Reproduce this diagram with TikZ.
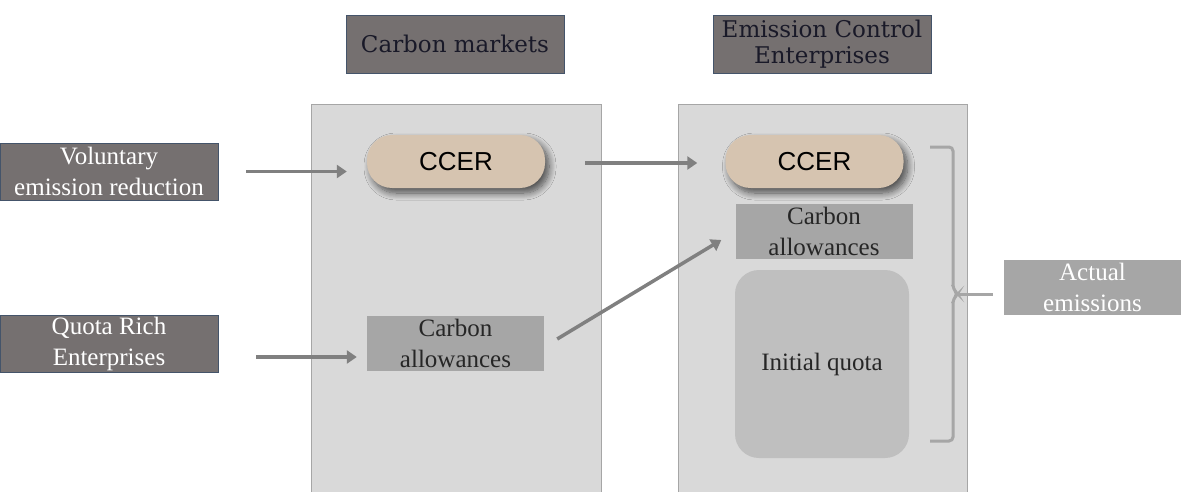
\documentclass[tikz,border=0pt]{standalone}
\usepackage{fontspec}
\setmainfont{Liberation Serif}
\setsansfont{Liberation Sans}
\newfontfamily\titlefont{DejaVu Serif}
\usetikzlibrary{shadows.blur,arrows.meta}
\definecolor{darkbox}{RGB}{117,112,112}
\definecolor{boxedge}{RGB}{68,84,106}
\definecolor{panelfill}{RGB}{217,217,217}
\definecolor{paneledge}{RGB}{166,166,166}
\definecolor{midgray}{RGB}{166,166,166}
\definecolor{pillfill}{RGB}{214,196,176}
\definecolor{arrowgray}{RGB}{128,128,128}
\definecolor{quotafill}{RGB}{191,191,191}
\definecolor{darktext}{RGB}{38,38,38}
\definecolor{titletext}{RGB}{25,25,40}
\begin{document}
\begin{tikzpicture}[x=1pt,y=-1pt,
  srcbox/.style={draw=boxedge,line width=0.8pt,fill=darkbox,text=white,inner sep=0pt,
    minimum width=218pt,minimum height=57pt,align=center,
    font=\fontsize{25}{31}\selectfont},
  titlebox/.style={draw=boxedge,line width=0.8pt,fill=darkbox,text=titletext,inner sep=0pt,
    minimum width=218pt,minimum height=58pt,align=center,
    font=\titlefont\fontsize{23}{26}\selectfont},
  panel/.style={draw=paneledge,line width=0.8pt,fill=panelfill,inner sep=0pt},
  pill/.style={fill=pillfill,rounded corners=25pt,minimum width=178pt,minimum height=53pt,
    inner sep=0pt,font=\sffamily\fontsize{26}{30}\selectfont,text=black,
    blur shadow={shadow xshift=4pt,shadow yshift=-5pt,shadow blur steps=10,shadow blur radius=7pt,shadow opacity=65}},
  allow/.style={fill=midgray,text=darktext,inner sep=0pt,minimum width=177pt,minimum height=55pt,
    align=center,font=\fontsize{25}{31}\selectfont},
  flow/.style={draw=arrowgray,line width=3.5pt,-{Triangle[length=10pt,width=13pt]}},
]
\useasboundingbox (0,0) rectangle (1182,492);
% panels
\node[panel,minimum width=290pt,minimum height=390pt,anchor=north west] (p1) at (311,104) {};
\node[panel,minimum width=289pt,minimum height=390pt,anchor=north west] (p2) at (678,104) {};
% titles
\node[titlebox] (t1) at (455,44) {Carbon markets};
\node[titlebox] (t2) at (822,44) {Emission Control\\Enterprises};
% source boxes
\node[srcbox] (vol) at (109,171.5) {Voluntary\\emission reduction};
\node[srcbox] (quota) at (109,344) {Quota Rich\\Enterprises};
% pills
\node[pill] (c1) at (456,161.5) {CCER};
\node[pill] (c2) at (814.5,161.5) {CCER};
% allowances
\node[allow] (a1) at (455.5,343.5) {Carbon\\allowances};
\node[allow] (a2) at (824,231) {Carbon\\allowances};
% initial quota
\node[fill=quotafill,rounded corners=24pt,minimum width=174pt,minimum height=188pt,inner sep=0pt,
  text=darktext,font=\fontsize{25}{31}\selectfont] (iq) at (822,364) {Initial quota};
% actual emissions
\node[fill=midgray,text=white,inner sep=0pt,minimum width=177pt,minimum height=55pt,align=center,
  font=\fontsize{25}{31}\selectfont] (act) at (1092.5,287.5) {Actual\\emissions};
% arrows
\draw[flow,shorten <=28pt,shorten >=20pt] (vol.east) -- (vol.east -| c1.west);
\draw[flow,shorten <=38pt,shorten >=10pt] (quota.east |- 0,357) coordinate (qs) -- (qs -| a1.west);
\draw[flow,shorten <=40pt,shorten >=28pt] (c1.east |- 0,163) coordinate (cs) -- (cs -| c2.west);
\draw[flow] ([shift={(13,-4.5)}]a1.east) -- ([shift={(-14,9)}]a2.west);
% bracket
\coordinate (brk) at (958,294);
\draw[draw=midgray,line width=3pt,rounded corners=4pt]
  (930,147) -- (953,147) -- (953,289) -- (brk) -- (953,299) -- (953,441) -- (930,441);
\draw[draw=midgray,line width=3pt] (brk) -- (brk -| act.west) [shorten >=11pt];
\end{tikzpicture}
\end{document}
